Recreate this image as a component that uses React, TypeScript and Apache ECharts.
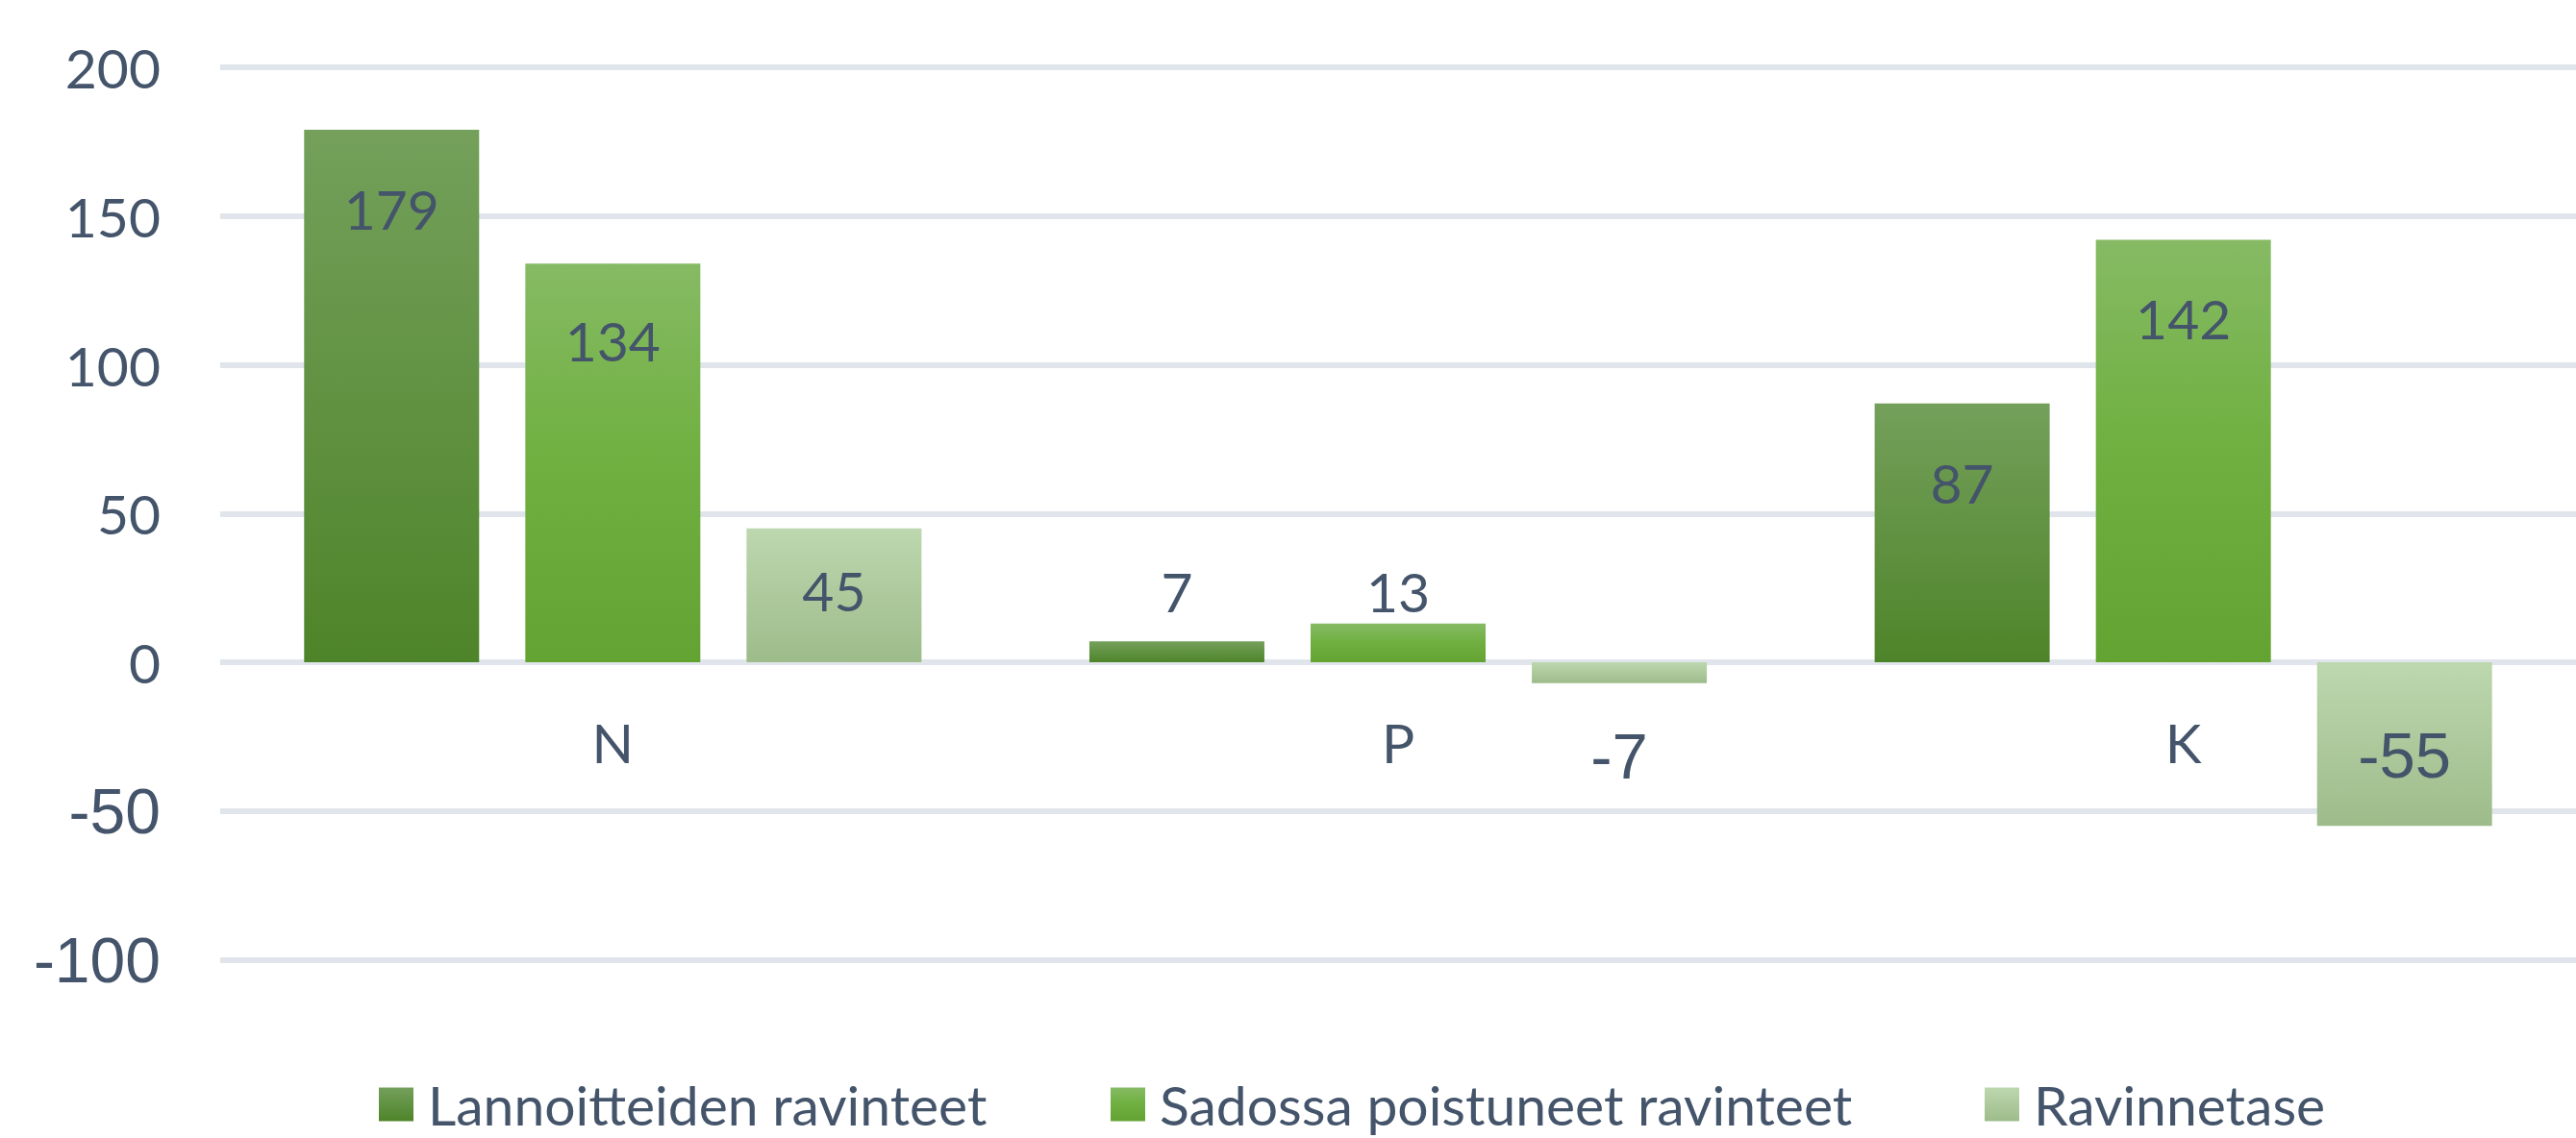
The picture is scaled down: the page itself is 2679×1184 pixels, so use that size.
import React, { useEffect, useRef } from "react";
import * as echarts from "echarts";

// ---- data ----
const categories = ["N", "P", "K"];
const seriesNames = [
  "Lannoitteiden ravinteet",
  "Sadossa poistuneet ravinteet",
  "Ravinnetase",
];
const fertilizerNutrients = [179, 7, 87];
const removedNutrients = [134, 13, 142];
const nutrientBalance = [45, -7, -55];
const yMin = -100;
const yMax = 200;
const yStep = 50;

// ---- styles ----
const TEXT = "#44546A";
const POS_FONT = "Lato";
const NEG_FONT = "Liberation Sans";
const POS_SIZE = 57;
const NEG_SIZE = 67;
const GRID_TOP = 70;
const GRID_HEIGHT = 928.5;
// label centre offsets (px) from the top of each bar's bounding box
const labelOffsets = [
  [82, -52, 82],
  [80, -34, 81],
  [64, 97, 96],
];
const gradients = [
  [[0, "#74A05B"], [1, "#4E8429"]],
  [[0, "#86BA64"], [0.45, "#71B143"], [1, "#62A332"]],
  [[0, "#BDD7AF"], [1, "#9DBC8A"]],
];
const legendLefts = [389, 1150, 2059];

function makeSeries(idx: number, values: number[]) {
  return {
    type: "bar",
    name: seriesNames[idx],
    barWidth: 182,
    barGap: "26.4%",
    itemStyle: {
      color: new echarts.graphic.LinearGradient(
        0,
        0,
        0,
        1,
        gradients[idx].map((s: any) => ({ offset: s[0], color: s[1] }))
      ),
    },
    data: values.map((v, i) => ({
      value: v,
      label: {
        show: true,
        position: ["50%", labelOffsets[idx][i]],
        align: "center",
        verticalAlign: "middle",
        fontFamily: v < 0 ? NEG_FONT : POS_FONT,
        fontSize: v < 0 ? NEG_SIZE : POS_SIZE,
        color: TEXT,
      },
    })),
  };
}

export default function App() {
  const ref = useRef<HTMLDivElement>(null);
  useEffect(() => {
    if (!ref.current) return;
    const chart = echarts.init(ref.current, null, { renderer: "svg" });
    // distance from the bottom of the grid up to the value 0
    const zeroOffset = (GRID_HEIGHT * (0 - yMin)) / (yMax - yMin);
    chart.setOption({
      animation: false,
      backgroundColor: "#FFFFFF",
      grid: { left: 229, top: GRID_TOP, width: 2463, height: GRID_HEIGHT, containLabel: false },
      legend: legendLefts.map((l, i) => ({
        data: [seriesNames[i]],
        left: l,
        top: 1114,
        icon: "rect",
        itemWidth: 36,
        itemHeight: 35,
        selectedMode: false,
        textStyle: {
          fontFamily: POS_FONT,
          fontSize: POS_SIZE,
          color: TEXT,
          lineHeight: 60,
          padding: [0, 0, 0, 10],
        },
      })),
      xAxis: {
        type: "category",
        data: categories,
        position: "bottom",
        offset: -zeroOffset,
        axisLine: { show: false, onZero: false },
        axisTick: { show: false },
        axisLabel: {
          interval: 0,
          fontFamily: POS_FONT,
          fontSize: POS_SIZE,
          color: TEXT,
          margin: 83,
          verticalAlign: "middle",
        },
      },
      yAxis: {
        type: "value",
        min: yMin,
        max: yMax,
        interval: yStep,
        axisLine: { show: false },
        axisTick: { show: false },
        splitLine: { lineStyle: { color: "#E0E5EB", width: 6 } },
        axisLabel: {
          margin: 62,
          formatter: (v: number) => (v < 0 ? `{neg|${v}}` : `{pos|${v}}`),
          rich: {
            neg: { fontFamily: NEG_FONT, fontSize: 66, color: TEXT },
            pos: { fontFamily: POS_FONT, fontSize: POS_SIZE, color: TEXT },
          },
        },
      },
      series: [
        makeSeries(0, fertilizerNutrients),
        makeSeries(1, removedNutrients),
        makeSeries(2, nutrientBalance),
      ],
    });
    return () => chart.dispose();
  }, []);
  return (
    <div
      ref={ref}
      style={{ position: "absolute", left: 0, top: 0, width: 2679, height: 1184 }}
    />
  );
}
